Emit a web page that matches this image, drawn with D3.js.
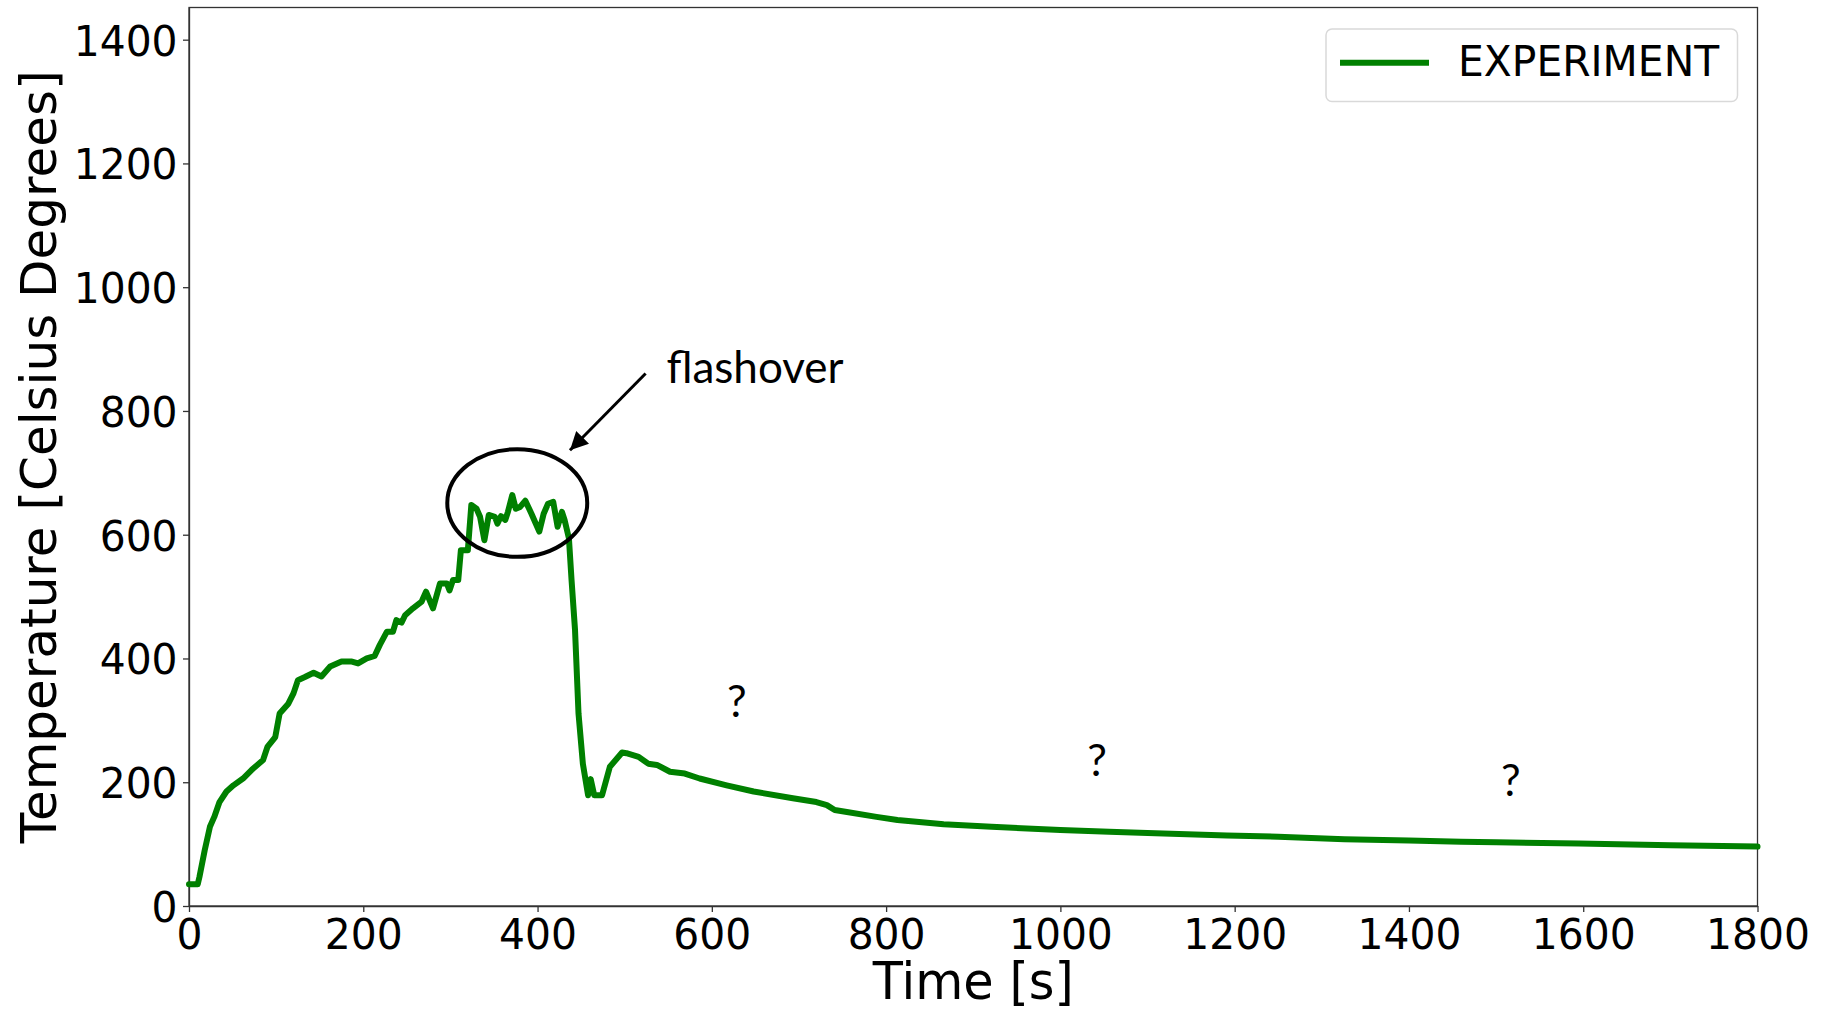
<!DOCTYPE html>
<html>
<head>
<meta charset="utf-8">
<script src="https://cdn.jsdelivr.net/npm/d3@7"></script>
<style>
  body { margin: 0; background: #fff; }
  svg { display: block; }
  .axis path, .axis line { stroke: #333; stroke-width: 1.3; }
  .axis text { font-family: "DejaVu Sans", sans-serif; font-size: 43px; fill: #000; }
</style>
</head>
<body>
<script>
// temperature readings (time in s, temperature in deg C)
var time = [
  0, 10, 12, 18, 24, 29, 35, 43, 51, 62,
  72, 85, 90, 99, 104, 114, 120, 125, 133, 143,
  152, 162, 175, 187, 194, 204, 213, 219, 227, 234,
  238, 244, 248, 257, 267, 272, 280, 288, 296, 299,
  303, 309, 312, 320, 324, 330, 334, 339, 344, 351,
  354, 358, 363, 366, 371, 375, 380, 386, 393, 402,
  407, 412, 418, 423, 428, 431, 436, 439, 443, 447,
  452, 458, 461, 465, 474, 483, 497, 502, 516, 527,
  537, 552, 569, 586, 617, 648, 693, 720, 732, 741,
  755, 789, 813, 866, 921, 1000, 1056, 1100, 1191, 1250,
  1326, 1400, 1460, 1500, 1595, 1700, 1800
];
var temp = [
  35, 35, 47, 90, 128, 144, 168, 185, 195, 206,
  220, 236, 257, 273, 311, 327, 344, 365, 370, 377,
  371, 387, 395, 395, 392, 400, 404, 422, 443, 443,
  462, 458, 470, 481, 492, 508, 481, 521, 521, 510,
  527, 527, 575, 575, 648, 642, 629, 591, 632, 629,
  618, 630, 624, 637, 664, 642, 645, 655, 634, 605,
  634, 650, 653, 613, 637, 624, 594, 527, 446, 311,
  230, 179, 205, 179, 179, 225, 248, 247, 241, 230,
  228, 217, 214, 206, 195, 185, 174, 168, 163, 155,
  152, 144, 139, 132, 128, 123, 120, 118, 114, 112,
  108, 106, 104, 103, 101, 98, 96
];

var xTicks = [0, 200, 400, 600, 800, 1000, 1200, 1400, 1600, 1800];
var yTicks = [0, 200, 400, 600, 800, 1000, 1200, 1400];

var seriesName = 'EXPERIMENT';

// annotations, in data units
var circleMark = { t: 376.7, v: 651.3, rt: 80.3, rv: 87 };
var arrowFrom = [524, 860.5],
    arrowTo = [437.2, 736.6];
var noteText = 'flashover',
    notePos = [548, 845.3];
var questionPos = [[628.8, 306], [1042, 210], [1517, 177]];

var data = time.map(function(t, i) { return { t: t, v: temp[i] }; });

var width = 1828,
    height = 1010;

var margin = { top: 7.5, right: 70.5, bottom: 104, left: 189 };

var x = d3.scaleLinear()
  .domain([0, 1800])
  .range([margin.left, width - margin.right]);

var y = d3.scaleLinear()
  .domain([0, 1452])
  .range([height - margin.bottom, margin.top]);

var svg = d3.select('body')
  .append('svg')
  .attr('width', width)
  .attr('height', height);

svg.append('defs').append('marker')
  .attr('id', 'head')
  .attr('viewBox', '0 0 10 10')
  .attr('refX', 10)
  .attr('refY', 5)
  .attr('markerWidth', 7)
  .attr('markerHeight', 6)
  .attr('markerUnits', 'strokeWidth')
  .attr('orient', 'auto')
  .append('path')
  .attr('d', 'M0,0L10,5L0,10z')
  .attr('fill', '#000');

// frame
svg.append('rect')
  .attr('x', x(0))
  .attr('y', y(1452))
  .attr('width', x(1800) - x(0))
  .attr('height', y(0) - y(1452))
  .attr('fill', 'none')
  .attr('stroke', '#333')
  .attr('stroke-width', 1.3);

var fmt = d3.format('d');

var xAxis = svg.append('g')
  .attr('class', 'axis')
  .attr('transform', 'translate(0,' + y(0) + ')')
  .call(d3.axisBottom(x).tickValues(xTicks).tickFormat(fmt).tickSize(6).tickPadding(6).tickSizeOuter(0));

var yAxis = svg.append('g')
  .attr('class', 'axis')
  .attr('transform', 'translate(' + x(0) + ',0)')
  .call(d3.axisLeft(y).tickValues(yTicks).tickFormat(fmt).tickSize(6).tickPadding(6).tickSizeOuter(0));

xAxis.selectAll('text').attr('transform', 'scale(0.95,1)');
yAxis.selectAll('text').attr('dy', '0.36em').attr('transform', 'scale(0.95,1)');

// the curve
var line = d3.line()
  .x(function(d) { return x(d.t); })
  .y(function(d) { return y(d.v); });

svg.append('path')
  .datum(data)
  .attr('d', line)
  .attr('fill', 'none')
  .attr('stroke', '#008000')
  .attr('stroke-width', 6)
  .attr('stroke-linejoin', 'round')
  .attr('stroke-linecap', 'round');

// axis labels
svg.append('text')
  .attr('transform', 'translate(' + ((x(0) + x(1800)) / 2) + ',999) scale(0.95,1)')
  .attr('text-anchor', 'middle')
  .style('font-family', '"DejaVu Sans", sans-serif')
  .style('font-size', '52px')
  .text('Time [s]');

svg.append('text')
  .attr('transform', 'translate(55.5,' + ((y(0) + y(1452)) / 2) + ') rotate(-90)')
  .attr('text-anchor', 'middle')
  .style('font-family', '"DejaVu Sans", sans-serif')
  .style('font-size', '50px')
  .text('Temperature [Celsius Degrees]');

// legend
var legend = svg.append('g');

legend.append('rect')
  .attr('x', 1326)
  .attr('y', 29)
  .attr('width', 411.5)
  .attr('height', 72.5)
  .attr('rx', 6)
  .attr('fill', '#fff')
  .attr('stroke', '#d9d9d9')
  .attr('stroke-width', 1.5);

legend.append('line')
  .attr('x1', 1340)
  .attr('x2', 1429)
  .attr('y1', 62.7)
  .attr('y2', 62.7)
  .attr('stroke', '#008000')
  .attr('stroke-width', 6);

legend.append('text')
  .attr('transform', 'translate(1458,76) scale(0.95,1)')
  .style('font-family', '"DejaVu Sans", sans-serif')
  .style('font-size', '43px')
  .text(seriesName);

// flashover annotation
svg.append('ellipse')
  .attr('cx', x(circleMark.t))
  .attr('cy', y(circleMark.v))
  .attr('rx', x(circleMark.rt) - x(0))
  .attr('ry', y(0) - y(circleMark.rv))
  .attr('fill', 'none')
  .attr('stroke', '#000')
  .attr('stroke-width', 4);

svg.append('line')
  .attr('x1', x(arrowFrom[0]))
  .attr('y1', y(arrowFrom[1]))
  .attr('x2', x(arrowTo[0]))
  .attr('y2', y(arrowTo[1]))
  .attr('stroke', '#000')
  .attr('stroke-width', 3)
  .attr('marker-end', 'url(#head)');

svg.append('text')
  .attr('x', x(notePos[0]))
  .attr('y', y(notePos[1]))
  .style('font-family', 'Lato, "Open Sans", sans-serif')
  .style('font-size', '44px')
  .text(noteText);

svg.selectAll('.q')
  .data(questionPos)
  .enter().append('text')
  .attr('class', 'q')
  .attr('x', function(d) { return x(d[0]); })
  .attr('y', function(d) { return y(d[1]); })
  .attr('text-anchor', 'middle')
  .style('font-family', 'Lato, "Open Sans", sans-serif')
  .style('font-size', '44px')
  .text('?');
</script>
</body>
</html>
